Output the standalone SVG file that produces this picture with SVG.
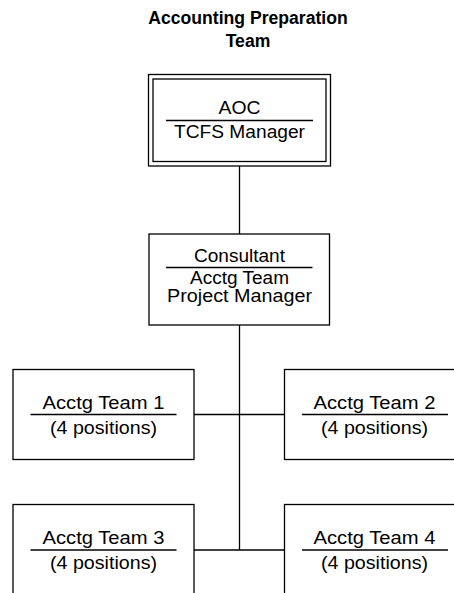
<svg xmlns="http://www.w3.org/2000/svg" width="454" height="593" viewBox="0 0 454 593">
<style>
.box{fill:#fff;stroke:#000;stroke-width:1.3}
.ln{fill:none;stroke:#000;stroke-width:1.3}
.t{font-family:"Liberation Sans",Arial,sans-serif;font-size:17.5px;fill:#000;text-anchor:middle}
.ttl{font-family:"Liberation Sans",Arial,sans-serif;font-size:17.6px;font-weight:bold;fill:#000;text-anchor:middle}
</style>
<rect width="454" height="593" fill="#fff"/>
<g id="title">
<text class="ttl" x="248" y="24">Accounting Preparation</text>
<text class="ttl" x="248" y="47">Team</text>
</g>
<g id="connectors">
<line class="ln" x1="239.5" y1="166" x2="239.5" y2="234"/>
<line class="ln" x1="239.5" y1="325" x2="239.5" y2="550"/>
<line class="ln" x1="194" y1="414.5" x2="284.5" y2="414.5"/>
<line class="ln" x1="194" y1="550" x2="284.5" y2="550"/>
</g>
<g id="aoc">
<rect class="box" x="148.5" y="74.5" width="182" height="91.5"/>
<rect class="box" x="153" y="79" width="173" height="82.5"/>
<text class="t" x="239.5" y="114" textLength="42" lengthAdjust="spacingAndGlyphs">AOC</text>
<line class="ln" x1="166" y1="120.5" x2="313" y2="120.5"/>
<text class="t" x="239.5" y="138" textLength="131" lengthAdjust="spacingAndGlyphs">TCFS Manager</text>
</g>
<g id="consultant">
<rect class="box" x="149" y="234" width="180.5" height="91"/>
<text class="t" x="239.5" y="261.5" textLength="91" lengthAdjust="spacingAndGlyphs">Consultant</text>
<line class="ln" x1="166" y1="267.5" x2="312.5" y2="267.5"/>
<text class="t" x="239.5" y="283.5" textLength="99" lengthAdjust="spacingAndGlyphs">Acctg Team</text>
<text class="t" x="239.5" y="302" textLength="145" lengthAdjust="spacingAndGlyphs">Project Manager</text>
</g>
<g id="team1">
<rect class="box" x="13" y="369.5" width="181" height="90"/>
<text class="t" x="103.5" y="409" textLength="122" lengthAdjust="spacingAndGlyphs">Acctg Team 1</text>
<line class="ln" x1="30.5" y1="414.5" x2="176.5" y2="414.5"/>
<text class="t" x="103.5" y="433.5" textLength="107" lengthAdjust="spacingAndGlyphs">(4 positions)</text>
</g>
<g id="team2">
<rect class="box" x="284.5" y="369.5" width="181" height="90"/>
<text class="t" x="374.5" y="409" textLength="122" lengthAdjust="spacingAndGlyphs">Acctg Team 2</text>
<line class="ln" x1="302" y1="414.5" x2="448" y2="414.5"/>
<text class="t" x="374.5" y="433.5" textLength="107" lengthAdjust="spacingAndGlyphs">(4 positions)</text>
</g>
<g id="team3">
<rect class="box" x="13" y="504.5" width="181" height="90"/>
<text class="t" x="103.5" y="544" textLength="122" lengthAdjust="spacingAndGlyphs">Acctg Team 3</text>
<line class="ln" x1="30.5" y1="550" x2="176.5" y2="550"/>
<text class="t" x="103.5" y="568.5" textLength="107" lengthAdjust="spacingAndGlyphs">(4 positions)</text>
</g>
<g id="team4">
<rect class="box" x="284.5" y="504.5" width="181" height="90"/>
<text class="t" x="374.5" y="544" textLength="122" lengthAdjust="spacingAndGlyphs">Acctg Team 4</text>
<line class="ln" x1="302" y1="550" x2="448" y2="550"/>
<text class="t" x="374.5" y="568.5" textLength="107" lengthAdjust="spacingAndGlyphs">(4 positions)</text>
</g>
</svg>
